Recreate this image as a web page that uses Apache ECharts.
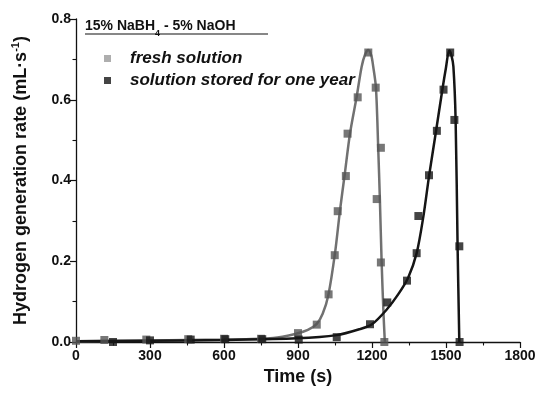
<!DOCTYPE html>
<html>
<head>
<meta charset="utf-8">
<script src="https://cdn.jsdelivr.net/npm/echarts@6/dist/echarts.min.js"></script>
<style>
  html, body { margin: 0; padding: 0; background: #fff; }
  #chart { width: 541px; height: 395px; }
</style>
</head>
<body>
<div id="chart"></div>
<script>
// measured points (time in s, rate in mL/s)
const freshTime = [0, 115, 285, 455, 600, 750, 900, 976, 1024, 1049, 1061, 1094, 1101, 1142, 1185, 1215, 1236, 1219, 1236, 1250];
const freshRate = [0.003, 0.005, 0.006, 0.007, 0.008, 0.008, 0.022, 0.043, 0.118, 0.215, 0.324, 0.411, 0.516, 0.606, 0.717, 0.63, 0.481, 0.354, 0.197, 0.0];

const storedTime = [150, 300, 465, 605, 755, 903, 1057, 1192, 1262, 1342, 1381, 1388, 1431, 1463, 1490, 1517, 1534, 1554, 1555];
const storedRate = [0.0, 0.004, 0.006, 0.007, 0.007, 0.006, 0.012, 0.044, 0.098, 0.152, 0.22, 0.312, 0.413, 0.523, 0.625, 0.717, 0.55, 0.237, 0.0];

// fitted curves
const freshFitTime = [0, 300, 600, 800, 895, 940, 976, 1000, 1023, 1050, 1070, 1090, 1111, 1138, 1158, 1172, 1185, 1197, 1205, 1216, 1225, 1232, 1239, 1246, 1252];
const freshFitRate = [0.002, 0.004, 0.006, 0.01, 0.021, 0.03, 0.045, 0.07, 0.116, 0.22, 0.325, 0.418, 0.517, 0.608, 0.682, 0.712, 0.723, 0.71, 0.682, 0.63, 0.484, 0.352, 0.199, 0.08, 0.0];

const storedFitTime = [0, 300, 600, 895, 1057, 1151, 1200, 1259, 1306, 1347, 1381, 1408, 1432, 1459, 1486, 1500, 1513, 1522, 1530, 1539, 1547, 1554];
const storedFitRate = [0.002, 0.003, 0.005, 0.009, 0.017, 0.032, 0.044, 0.08, 0.118, 0.16, 0.22, 0.31, 0.414, 0.52, 0.628, 0.68, 0.722, 0.71, 0.682, 0.55, 0.236, 0.0];

const xTicks = { min: 0, max: 1800, interval: 300 };
const yTicks = { min: 0, max: 0.8, interval: 0.2 };

const zip = (a, b) => a.map((v, i) => [v, b[i]]);

const font = "'Liberation Sans', Arial, sans-serif";
const gray = "#717171";
const grayMark = "#555555";
const black = "#151515";

const chart = echarts.init(document.getElementById("chart"));

const axisCommon = {
  axisLine: { show: true, lineStyle: { color: "#111", width: 1.3 } },
  axisTick: { show: true, inside: false, length: 6, lineStyle: { color: "#111", width: 1.2 } },
  minorTick: { show: true, splitNumber: 2, length: 3.5, lineStyle: { color: "#111", width: 1.1 } },
  splitLine: { show: false },
  axisLabel: { color: "#111", fontFamily: font, fontWeight: "bold", fontSize: 14 },
  nameTextStyle: { color: "#111", fontFamily: font, fontWeight: "bold", fontSize: 18 },
};

chart.setOption({
  animation: false,
  backgroundColor: "#fff",
  grid: { left: 76, right: 21, top: 19, bottom: 53 },
  xAxis: {
    type: "value",
    ...xTicks,
    name: "Time (s)",
    nameLocation: "middle",
    nameGap: 25,
    ...axisCommon,
    axisLabel: { ...axisCommon.axisLabel, margin: 7, formatter: (v) => String(v) },
  },
  yAxis: {
    type: "value",
    ...yTicks,
    name: "Hydrogen generation rate (mL·s{sup|-1})",
    nameLocation: "middle",
    nameGap: 44,
    ...axisCommon,
    axisLabel: { ...axisCommon.axisLabel, margin: 5, formatter: (v) => v.toFixed(1) },
    nameTextStyle: {
      ...axisCommon.nameTextStyle,
      rich: {
        sup: { fontFamily: font, fontWeight: "bold", fontSize: 11, color: "#111", verticalAlign: "top", lineHeight: 22 },
      },
    },
  },
  legend: {
    orient: "vertical",
    left: 99,
    top: 45,
    itemGap: 5,
    itemWidth: 7,
    itemHeight: 7,
    icon: "rect",
    textStyle: { color: "#111", fontFamily: font, fontWeight: "bold", fontStyle: "italic", fontSize: 17, lineHeight: 17, padding: [0, 0, 0, 14] },
    data: [
      { name: "fresh solution", itemStyle: { color: "#9a9a9a" } },
      { name: "solution stored for one year", itemStyle: { color: black } },
    ],
  },
  graphic: [
    {
      type: "text",
      left: 85,
      top: 19,
      style: {
        text: "{a|15% NaBH}{s|4}{a| - 5% NaOH}",
        rich: {
          a: { fontFamily: font, fontWeight: "bold", fontSize: 14, fill: "#111", lineHeight: 16, verticalAlign: "bottom" },
          s: { fontFamily: font, fontWeight: "bold", fontSize: 9, fill: "#111", lineHeight: 16, verticalAlign: "bottom", padding: [0, 0, -5, 0] },
        },
      },
    },
    {
      type: "line",
      shape: { x1: 85, y1: 34, x2: 268, y2: 34 },
      style: { stroke: "#111", lineWidth: 1.2 },
    },
  ],
  series: [
    {
      name: "fresh fit",
      type: "line",
      data: zip(freshFitTime, freshFitRate),
      smooth: 0.3,
      showSymbol: false,
      lineStyle: { color: gray, width: 2.5 },
      z: 2,
    },
    {
      name: "solution stored fit",
      type: "line",
      data: zip(storedFitTime, storedFitRate),
      smooth: 0.3,
      showSymbol: false,
      lineStyle: { color: black, width: 2.5 },
      z: 2,
    },
    {
      name: "fresh solution",
      type: "scatter",
      data: zip(freshTime, freshRate),
      symbol: "rect",
      symbolSize: 8,
      itemStyle: { color: grayMark },
      z: 3,
    },
    {
      name: "solution stored for one year",
      type: "scatter",
      data: zip(storedTime, storedRate),
      symbol: "rect",
      symbolSize: 8,
      itemStyle: { color: black },
      z: 3,
    },
  ],
});
</script>
</body>
</html>
